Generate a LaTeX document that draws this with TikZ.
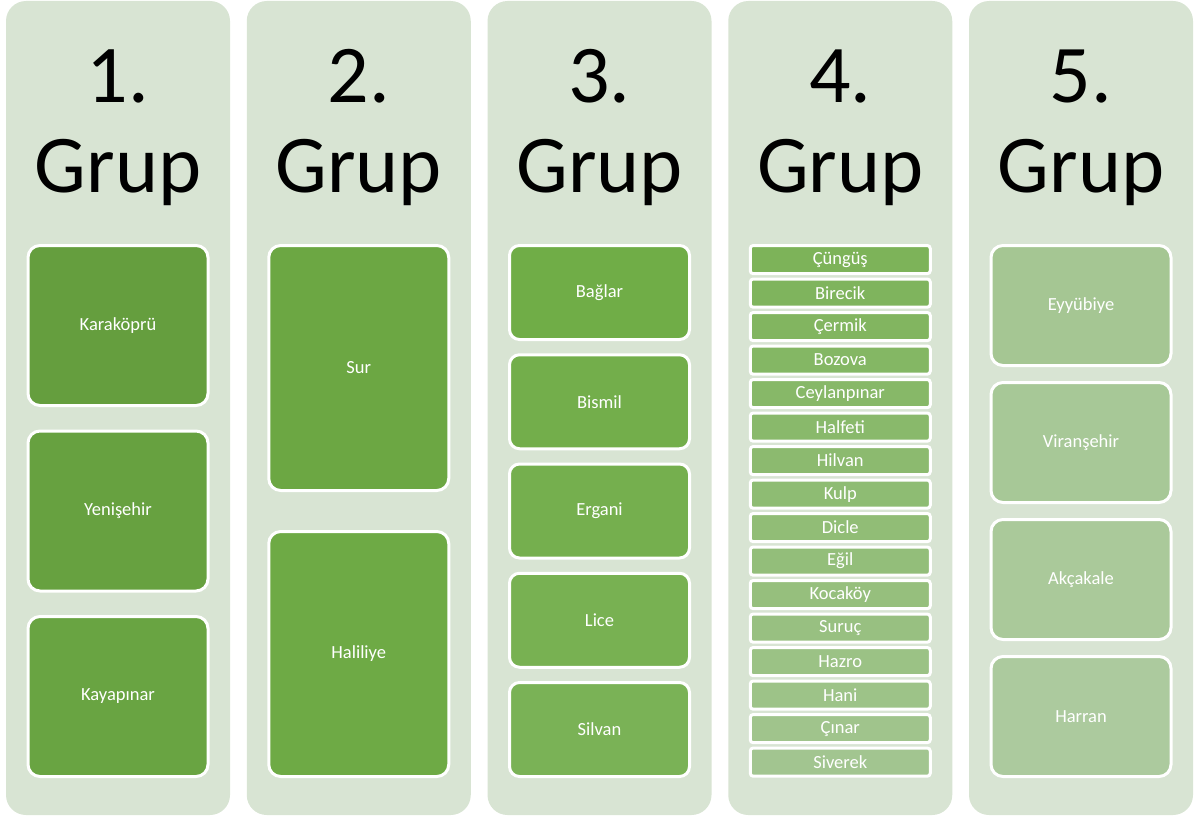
\documentclass[tikz,border=0pt]{standalone}
\usepackage{fontspec}
\setmainfont{Carlito}
\usetikzlibrary{positioning}
\definecolor{colbg}{HTML}{D8E4D3}
\tikzset{
  colpanel/.style={fill=colbg,rounded corners=20pt,minimum width=224pt,minimum height=814pt,inner sep=0pt},
  grouptitle/.style={font=\fontsize{82}{90}\selectfont,text=black,inner sep=0pt},
  unitbox/.style={draw=white,line width=3pt,text=white,font=\fontsize{18.5}{20}\selectfont,minimum width=180pt,inner sep=0pt}
}
\newcommand{\setboxcolor}[1]{%
  \pgfmathtruncatemacro\cR{round((#1<=5) ? (101+11*#1/5) : (112+60*(#1-5)/24))}%
  \pgfmathtruncatemacro\cG{round((#1<=5) ? (158+15*#1/5) : (173+29*(#1-5)/24))}%
  \pgfmathtruncatemacro\cB{round((#1<=5) ? (62+9*#1/5) : (71+87*(#1-5)/24))}%
  \definecolor{boxfill}{RGB}{\cR,\cG,\cB}}
\newcommand{\grupcol}[6]{%
  \pgfmathsetmacro\cx{118+240.75*(#1-1)}
  \node[colpanel] (col#1) at (\cx,408) {};
  \node[grouptitle,anchor=base] (num#1) at (\cx,102) {#1.};
  \node[grouptitle,anchor=base] (grup#1) at (\cx,192) {Grup};
  \foreach \lbl [count=\j from 0] in {#6} {
    \pgfmathsetmacro\yy{244+#3/2+\j*#4}
    \pgfmathtruncatemacro\k{#2+\j}
    \setboxcolor{\k}
    \node[unitbox,fill=boxfill,minimum height=(#3-3)*1pt,rounded corners=#5pt] (b#1-\j) at (\cx,\yy) {\lbl};
  }}

\begin{document}
\begin{tikzpicture}[x=1pt,y=-1pt]
\useasboundingbox (0,0) rectangle (1198,816);
\grupcol{1}{0}{163}{185.5}{12}{Karaköprü,Yenişehir,Kayapınar}
\grupcol{2}{3}{248}{286}{12}{Sur,Haliliye}
\grupcol{3}{5}{97}{109.25}{10}{Bağlar,Bismil,Ergani,Lice,Silvan}
\grupcol{4}{10}{31.2}{33.5}{3}{Çüngüş,Birecik,Çermik,Bozova,Ceylanpınar,Halfeti,Hilvan,Kulp,Dicle,Eğil,Kocaköy,Suruç,Hazro,Hani,Çınar,Siverek}
\grupcol{5}{26}{123}{137}{12}{Eyyübiye,Viranşehir,Akçakale,Harran}
\end{tikzpicture}
\end{document}
